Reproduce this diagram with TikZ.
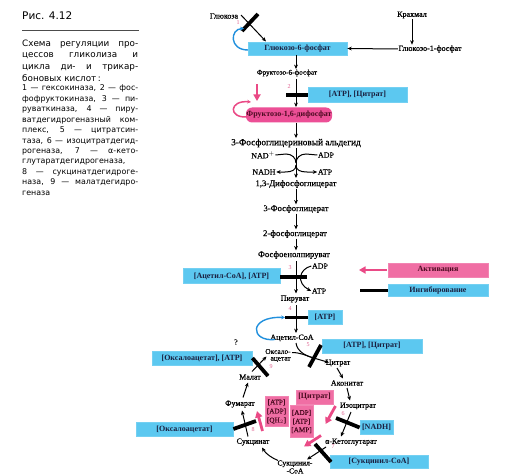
\documentclass[tikz,border=0pt]{standalone}
\usepackage{fontspec}
\setmainfont{Liberation Serif}
\newfontfamily\hvserif{Liberation Serif}[FakeBold=0.6]
\newfontfamily\capfont{DejaVu Sans}
\usetikzlibrary{arrows.meta}
\definecolor{cyanbox}{HTML}{5CC8F0}
\definecolor{pinkbox}{HTML}{F06EA4}
\definecolor{fructbox}{HTML}{EC4F96}
\definecolor{pinkarr}{HTML}{EA4A86}
\definecolor{bluearc}{HTML}{2190DD}
\definecolor{numcol}{HTML}{E0608F}
\definecolor{navytext}{HTML}{1A2040}
\definecolor{marontext}{HTML}{4A0A20}
\begin{document}
\begin{tikzpicture}[x=1pt,y=-1pt,
  lbl/.style={inner sep=0.5pt, font=\hvserif\fontsize{8}{9}\selectfont},
  biglbl/.style={inner sep=0.5pt, font=\hvserif\fontsize{8.7}{10}\selectfont},
  smalllbl/.style={inner sep=0.5pt, font=\hvserif\fontsize{7.2}{8}\selectfont},
  cbox/.style={fill=cyanbox, draw=cyanbox!85, line width=0.8pt, inner sep=0pt, text=navytext, font=\bfseries\fontsize{8}{9}\selectfont},
  pbox/.style={fill=pinkbox, draw=pinkbox!85, line width=0.8pt, inner sep=0pt, text=marontext, font=\bfseries\fontsize{8}{9}\selectfont},
  num/.style={text=numcol, font=\fontsize{6}{7}\selectfont, inner sep=0pt},
  arr/.style={-{Stealth[length=4.4pt,width=3.8pt]}, line width=1pt},
  inh/.style={line width=3.8pt},
  act/.style={draw=pinkarr, line width=2.8pt, -{Triangle[length=6.5pt,width=7pt]}},
  capl/.style={inner sep=0pt, anchor=base west, font=\capfont\fontsize{8.8}{10}\selectfont},
  legl/.style={inner sep=0pt, anchor=base west, font=\capfont\fontsize{7.9}{9}\selectfont}
]
\useasboundingbox (0,0) rectangle (527,476);
\fill[white] (0,0) rectangle (527,476);

% ---------- caption ----------
\node[inner sep=0pt, anchor=base west, font=\capfont\fontsize{10.5}{12}\selectfont] (fig) at (22,20) {Рис. 4.12};
\coordinate (hlA) at (22,30); \coordinate (hlB) at (139,30);
\draw[line width=0.6pt, black!70] (hlA) -- (hlB);
\node[capl] (t1) at (22,46.5) {\makebox[116pt][s]{Схема регуляции про-}};
\node[capl] (t2) at (22,58) {\makebox[116pt][s]{цессов гликолиза и}};
\node[capl] (t3) at (22,69.5) {\makebox[116pt][s]{цикла ди- и трикар-}};
\node[capl] (t4) at (22,81.5) {боновых кислот\,:};
\node[legl] (l1) at (22,91) {\makebox[116pt][s]{1 — гексокиназа, 2 — фос-}};
\node[legl] (l2) at (22,101.4) {\makebox[116pt][s]{фофруктокиназа, 3 — пи-}};
\node[legl] (l3) at (22,111.8) {\makebox[116pt][s]{руваткиназа, 4 — пиру-}};
\node[legl] (l4) at (22,122.2) {\makebox[116pt][s]{ватдегидрогеназный ком-}};
\node[legl] (l5) at (22,132.6) {\makebox[116pt][s]{плекс, 5 — цитратсин-}};
\node[legl] (l6) at (22,143) {\makebox[116pt][s]{таза, 6 — изоцитратдегид-}};
\node[legl] (l7) at (22,153.4) {\makebox[116pt][s]{рогеназа, 7 — α-кето-}};
\node[legl] (l8) at (22,163.8) {глутаратдегидрогеназа,};
\node[legl] (l9) at (22,174.2) {\makebox[116pt][s]{8 — сукцинатдегидроге-}};
\node[legl] (l10) at (22,184.6) {\makebox[116pt][s]{наза, 9 — малатдегидро-}};
\node[legl] (l11) at (22,195) {геназа};

% ---------- glycolysis nodes ----------
\node[lbl] (glc) at (224,16) {Глюкоза};
\node[lbl] (starch) at (412,15) {Крахмал};
\node[lbl] (g1p) at (430,49) {Глюкозо-1-фосфат};
\node[cbox, minimum width=99pt, minimum height=13pt] (g6p) at (297.5,48.5) {Глюкозо-6-фосфат};
\node[smalllbl] (f6p) at (287,73) {Фруктозо-6-фосфат};
\node[cbox, minimum width=99pt, minimum height=15pt] (ac1) at (357.5,94.5) {[ATP], [Цитрат]};
\node[fill=fructbox, rounded corners=6pt, inner sep=0pt, minimum width=86pt, minimum height=15pt, text=marontext, font=\bfseries\fontsize{8}{9}\selectfont] (f16) at (289,115) {Фруктозо-1,6-дифосфат};
\node[biglbl, font=\hvserif\fontsize{9.3}{10}\selectfont] (gap) at (296,143) {3-Фосфоглицериновый альдегид};
\node[lbl] (nad) at (263,155) {NAD$^+$};
\node[lbl] (adp1) at (326,155) {ADP};
\node[lbl] (nadh) at (264,172) {NADH};
\node[lbl] (atp1) at (325,172) {ATP};
\node[biglbl] (dpg) at (296,184) {1,3-Дифосфоглицерат};
\node[biglbl] (pg3) at (296,209) {3-Фосфоглицерат};
\node[biglbl] (pg2) at (295,234) {2-фосфоглицерат};
\node[biglbl] (pep) at (294,255) {Фосфоенолпируват};
\node[lbl] (adp2) at (320,266) {ADP};
\node[lbl] (atp2) at (319,291) {ATP};
\node[cbox, minimum width=97pt, minimum height=15pt] (aca) at (231.5,276) {[Ацетил-CoA], [ATP]};
\node[lbl] (pyr) at (295,299) {Пируват};
\node[cbox, minimum width=34pt, minimum height=14pt] (atpb) at (325,317.5) {[ATP]};
\node[lbl] (acoa) at (292,338) {Ацетил-CoA};

% ---------- legend ----------
\node[pbox, minimum width=100pt, minimum height=14pt] (leg1) at (438,270) {Активация};
\node[cbox, minimum width=100pt, minimum height=12pt] (leg2) at (438,290.5) {Ингибирование};
\coordinate (la1) at (387,270); \coordinate (la2) at (359,270);
\draw[act] (la1) -- (la2);
\coordinate (li1) at (360,290.5);
\draw[inh] (li1) -- (leg2.west);

% ---------- TCA nodes ----------
\node[cbox, minimum width=100pt, minimum height=14pt] (ac2) at (372,346) {[ATP], [Цитрат]};
\node[cbox, minimum width=100pt, minimum height=14pt] (oaab) at (202,358) {[Оксалоацетат], [ATP]};
\node[lbl] (q) at (236,342) {?};
\node[lbl, align=right, font=\hvserif\fontsize{7.4}{6.6}\selectfont] (oaa) at (278,355.5) {Оксало-\\ацетат};
\node[lbl] (cit) at (338,363) {Цитрат};
\node[lbl] (acon) at (347,383) {Аконитат};
\node[lbl] (icit) at (358,406) {Изоцитрат};
\node[cbox, minimum width=33pt, minimum height=14pt] (nadhb) at (376.5,427.5) {[NADH]};
\node[lbl] (akg) at (351,442) {α-Кетоглутарат};
\node[cbox, minimum width=98pt, minimum height=13pt] (scab) at (379,461.5) {[Сукцинил-CoA]};
\node[lbl, align=center, font=\hvserif\fontsize{7.6}{8}\selectfont] (sca) at (295,467) {Сукцинил-\\-CoA};
\node[lbl] (succ) at (253,442) {Сукцинат};
\node[cbox, minimum width=97pt, minimum height=14pt] (oab2) at (184.5,429) {[Оксалоацетат]};
\node[lbl] (fum) at (240,404) {Фумарат};
\node[lbl] (mal) at (250,377) {Малат};
\node[pbox, minimum width=37pt, minimum height=14pt] (citb) at (314.5,397) {[Цитрат]};
\node[pbox, minimum width=23pt, minimum height=30pt, align=center, font=\hvserif\fontsize{7.2}{9}\selectfont] (st1) at (276.5,411.5) {[ATP]\\{}[ADP]\\{}[QH$_2$]};
\node[pbox, minimum width=23pt, minimum height=32pt, align=center, font=\hvserif\fontsize{7.2}{8.6}\selectfont] (st2) at (301.5,421.5) {[ADP]\\{}[ATP]\\{}[AMP]};

% ---------- numbers ----------
\node[num] (n1) at (238,23) {1};
\node[num] (n2) at (289,87) {2};
\node[num] (n3) at (290,268) {3};
\node[num] (n4) at (290,309) {4};
\node[num] (n5) at (308,345) {5};
\node[num] (n6) at (343,414) {6};
\node[num] (n7) at (333,447) {7};
\node[num] (n8) at (253,430) {8};
\node[num] (n9) at (271,367) {9};

% ---------- glycolysis connectors ----------
\coordinate (c1a) at (241,15); \coordinate (c1b) at (266,41.5);
\draw[arr] (c1a) -- (c1b);
\coordinate (b1a) at (258,14); \coordinate (b1b) at (242,31);
\draw[inh] (b1a) -- (b1b);
\coordinate (ba1) at (248,50); \coordinate (ba2) at (244,28.5);
\draw[bluearc, line width=1.4pt, -{Stealth[length=3.8pt,width=3.8pt]}] (ba1) .. controls (229,50) and (230,29) .. (ba2);
\draw[arr] (starch.south) -- (g1p.north -| starch.south);
\draw[arr] (g1p.west) -- (g6p.east);
\draw[arr] (g6p.south -| 296,0) -- (f6p.north -| 296,0);
\coordinate (c2a) at (296,79); \coordinate (c2b) at (296,107);
\draw[arr] (c2a) -- (c2b);
\coordinate (b2a) at (286,95);
\draw[inh] (b2a) -- (ac1.west |- b2a);
\coordinate (pa1) at (247,117); \coordinate (pa2) at (251,102);
\draw[pinkarr, line width=1.5pt, -{Stealth[length=3.8pt,width=3.8pt]}] (pa1) .. controls (228,118) and (229,100) .. (pa2);
\coordinate (pd1) at (257,84.5); \coordinate (pd2) at (257,101);
\draw[act] (pd1) -- (pd2);
\draw[arr] (f16.south -| 296,0) -- (gap.north -| 296,0);
% NAD / ADP
\coordinate (m1) at (296,148); \coordinate (m2) at (296,178);
\draw[arr] (m1) -- (m2);
\draw[line width=1pt] (nad.east) -- (286,154) .. controls (292,154) and (296,158) .. (296,163);
\draw[line width=1pt] (adp1.west) -- (306,154) .. controls (300,154) and (296,158) .. (296,163);
\draw[arr] (296,165) .. controls (296,170) and (292,172) .. (285,172) -- (nadh.east);
\draw[arr] (296,165) .. controls (296,170) and (300,172) .. (307,172) -- (atp1.west);
\draw[arr] (dpg.south -| 296,0) -- (pg3.north -| 296,0);
\draw[arr] (pg3.south -| 296,0) -- (pg2.north -| 296,0);
\draw[arr] (pg2.south -| 296,0) -- (pep.north -| 296,0);
% pyruvate kinase
\coordinate (c3a) at (296,261); \coordinate (c3b) at (296,293.5);
\draw[arr] (c3a) -- (c3b);
\draw[arr] (adp2.west) .. controls (299,269) and (296,283) .. (atp2.west);
\coordinate (b3b) at (307,277);
\draw[inh] (aca.east |- b3b) -- (b3b);
% PDH
\coordinate (c4a) at (296,305); \coordinate (c4b) at (296,333);
\draw[arr] (c4a) -- (c4b);
\coordinate (b4a) at (285,317.5);
\draw[inh] (b4a) -- (atpb.west);
\coordinate (bb1) at (275,339.5); \coordinate (bb2) at (285,317.5);
\draw[bluearc, line width=1.4pt, -{Stealth[length=3.8pt,width=3.8pt]}] (bb1) .. controls (250,342) and (248,316) .. (bb2);

% ---------- TCA connectors ----------
\coordinate (j5) at (312,357.5);
\coordinate (c5s) at (296,343); \coordinate (c5e) at (329,362.5);
\draw[arr] (c5s) .. controls (297,351) and (305,355.5) .. (j5) -- (c5e);
\coordinate (oaaE) at (292,352.5);
\draw[line width=1pt] (oaaE) .. controls (300,352.5) and (306,355.5) .. (j5);
\coordinate (b5a) at (321,345); \coordinate (b5b) at (309,367);
\draw[inh] (b5a) -- (b5b);
\coordinate (c6a) at (337,368); \coordinate (c6b) at (343,378.5);
\draw[arr] (c6a) -- (c6b);
\coordinate (c7a) at (347,388); \coordinate (c7b) at (350,400.5);
\draw[arr] (c7a) -- (c7b);
\coordinate (c8a) at (351,412); \coordinate (c8b) at (341,436.5);
\draw[arr] (c8a) -- (c8b);
\coordinate (b6a) at (336,418);
\draw[inh] (b6a) -- (nadhb.west);
\coordinate (c9a) at (326,447); \coordinate (c9b) at (307,459.5);
\draw[arr] (c9a) -- (c9b);
\coordinate (b7a) at (315,444); \coordinate (b7b) at (331,462);
\draw[inh] (b7a) -- (b7b);
\coordinate (c10a) at (278,460.5); \coordinate (c10b) at (262,447.5);
\draw[arr] (c10a) .. controls (272,458) and (266,454) .. (c10b);
\coordinate (c11a) at (248,436.5); \coordinate (c11b) at (242,410.5);
\draw[arr] (c11a) -- (c11b);
\coordinate (b8b) at (256,421);
\draw[inh] (oab2.east) -- (b8b);
\coordinate (c12a) at (243,397.5); \coordinate (c12b) at (248,382.5);
\draw[arr] (c12a) -- (c12b);
\coordinate (c13a) at (252,371.5); \coordinate (c13b) at (266.5,356.5);
\draw[arr] (c13a) -- (c13b);
\coordinate (b9b) at (268,376);
\draw[inh] (oaab.east) -- (b9b);
% activation arrows
\coordinate (pk1) at (262.5,431); \coordinate (pk2) at (257,411);
\draw[act] (pk1) -- (pk2);
\coordinate (pk3) at (335.5,406); \coordinate (pk4) at (325.5,424);
\draw[act] (pk3) -- (pk4);
\coordinate (pk5) at (321,435.5); \coordinate (pk6) at (304,446.5);
\draw[act] (pk5) -- (pk6);
\end{tikzpicture}
\end{document}
